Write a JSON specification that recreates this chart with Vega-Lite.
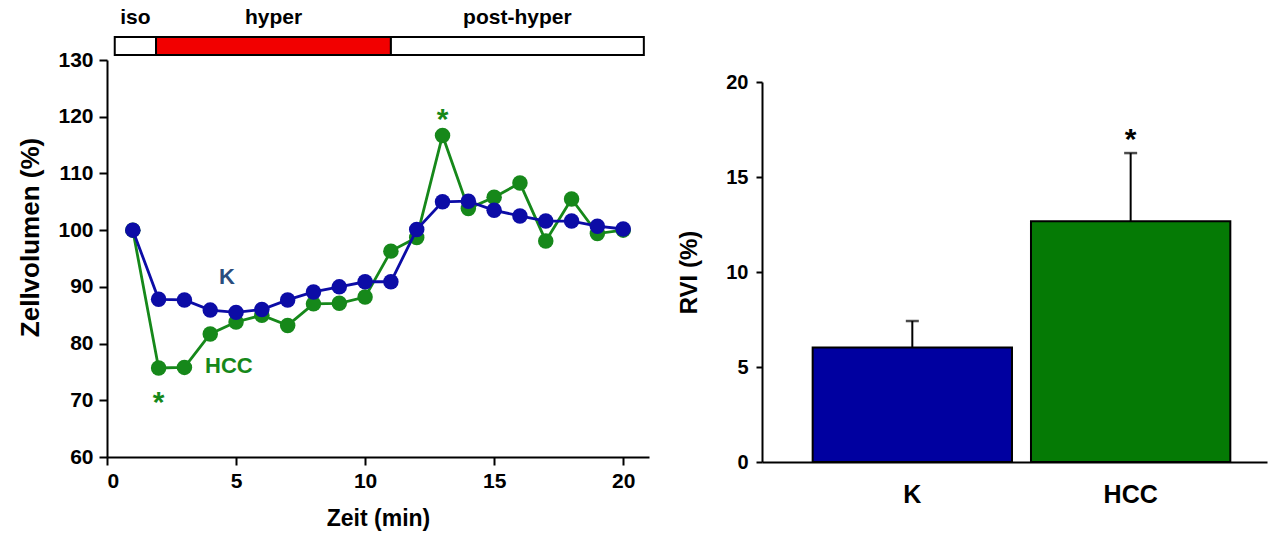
{
  "$schema": "https://vega.github.io/schema/vega-lite/v6.json",
  "padding": {"left": 17, "top": 5, "right": 5, "bottom": 5},
  "background": "white",
  "config": {
    "view": {"stroke": null},
    "font": "Liberation Sans",
    "axis": {
      "grid": false,
      "domainColor": "black",
      "domainWidth": 2,
      "tickColor": "black",
      "tickWidth": 2,
      "tickSize": 8,
      "labelFont": "Liberation Sans",
      "labelFontWeight": "bold",
      "labelFontSize": 21,
      "labelColor": "black",
      "titleFont": "Liberation Sans",
      "titleFontWeight": "bold",
      "titleFontSize": 23,
      "titleColor": "black"
    }
  },
  "spacing": 28,
  "resolve": {"scale": {"fill": "independent", "color": "independent"}},
  "hconcat": [
    {
      "bounds": "flush",
      "spacing": 5,
      "resolve": {"scale": {"x": "shared"}},
      "vconcat": [
        {
          "width": 542,
          "height": 50,
          "data": {
            "values": [
              {"phase": "iso", "start": 0.3, "end": 1.9},
              {"phase": "hyper", "start": 1.9, "end": 11.0},
              {"phase": "post-hyper", "start": 11.0, "end": 20.8}
            ]
          },
          "transform": [{"calculate": "(datum.start + datum.end) / 2", "as": "mid"}],
          "layer": [
            {
              "mark": {"type": "rect", "stroke": "black", "strokeWidth": 2},
              "encoding": {
                "x": {"field": "start", "type": "quantitative", "scale": {"domain": [0, 21], "nice": false, "zero": true}, "axis": null},
                "x2": {"field": "end"},
                "y": {"datum": 0, "type": "quantitative", "scale": {"domain": [0, 50], "nice": false}, "axis": null},
                "y2": {"datum": 18},
                "fill": {
                  "field": "phase",
                  "type": "nominal",
                  "scale": {"domain": ["iso", "hyper", "post-hyper"], "range": ["white", "#f20000", "white"]},
                  "legend": null
                }
              }
            },
            {
              "mark": {"type": "text", "font": "Liberation Sans", "fontWeight": "bold", "fontSize": 21, "baseline": "middle", "color": "black"},
              "encoding": {
                "x": {"field": "mid", "type": "quantitative"},
                "y": {"datum": 37, "type": "quantitative"},
                "text": {"field": "phase"}
              }
            }
          ]
        },
        {
          "width": 542,
          "height": 397,
          "data": {
            "values": [
              {"t": 1, "group": "HCC", "vol": 100.0},
              {"t": 2, "group": "HCC", "vol": 75.7},
              {"t": 3, "group": "HCC", "vol": 75.8},
              {"t": 4, "group": "HCC", "vol": 81.7},
              {"t": 5, "group": "HCC", "vol": 83.8},
              {"t": 6, "group": "HCC", "vol": 85.0},
              {"t": 7, "group": "HCC", "vol": 83.2},
              {"t": 8, "group": "HCC", "vol": 87.0},
              {"t": 9, "group": "HCC", "vol": 87.1},
              {"t": 10, "group": "HCC", "vol": 88.2},
              {"t": 11, "group": "HCC", "vol": 96.3},
              {"t": 12, "group": "HCC", "vol": 98.7},
              {"t": 13, "group": "HCC", "vol": 116.7},
              {"t": 14, "group": "HCC", "vol": 103.8},
              {"t": 15, "group": "HCC", "vol": 105.8},
              {"t": 16, "group": "HCC", "vol": 108.3},
              {"t": 17, "group": "HCC", "vol": 98.1},
              {"t": 18, "group": "HCC", "vol": 105.5},
              {"t": 19, "group": "HCC", "vol": 99.4},
              {"t": 20, "group": "HCC", "vol": 100.0},
              {"t": 1, "group": "K", "vol": 100.0},
              {"t": 2, "group": "K", "vol": 87.8},
              {"t": 3, "group": "K", "vol": 87.7},
              {"t": 4, "group": "K", "vol": 85.9},
              {"t": 5, "group": "K", "vol": 85.5},
              {"t": 6, "group": "K", "vol": 86.0},
              {"t": 7, "group": "K", "vol": 87.7},
              {"t": 8, "group": "K", "vol": 89.1},
              {"t": 9, "group": "K", "vol": 90.0},
              {"t": 10, "group": "K", "vol": 90.9},
              {"t": 11, "group": "K", "vol": 90.9},
              {"t": 12, "group": "K", "vol": 100.1},
              {"t": 13, "group": "K", "vol": 105.0},
              {"t": 14, "group": "K", "vol": 105.1},
              {"t": 15, "group": "K", "vol": 103.5},
              {"t": 16, "group": "K", "vol": 102.5},
              {"t": 17, "group": "K", "vol": 101.6},
              {"t": 18, "group": "K", "vol": 101.6},
              {"t": 19, "group": "K", "vol": 100.7},
              {"t": 20, "group": "K", "vol": 100.2}
            ]
          },
          "encoding": {
            "x": {
              "field": "t",
              "type": "quantitative",
              "scale": {"domain": [0, 21], "nice": false, "zero": true},
              "axis": {"values": [0, 5, 10, 15, 20], "title": "Zeit (min)", "titlePadding": 16, "labelPadding": 5}
            },
            "y": {
              "field": "vol",
              "type": "quantitative",
              "scale": {"domain": [60, 130], "nice": false, "zero": false},
              "axis": {"values": [60, 70, 80, 90, 100, 110, 120, 130], "title": "Zellvolumen (%)", "titleFontSize": 26, "titlePadding": 14, "titleY": 177, "labelPadding": 6}
            }
          },
          "layer": [
            {
              "transform": [{"filter": "datum.group === 'HCC'"}],
              "mark": {"type": "line", "strokeWidth": 2.8, "color": "#16881a"}
            },
            {
              "transform": [{"filter": "datum.group === 'HCC'"}],
              "mark": {"type": "circle", "size": 240, "opacity": 1, "color": "#16881a"}
            },
            {
              "transform": [{"filter": "datum.group === 'K'"}],
              "mark": {"type": "line", "strokeWidth": 2.8, "color": "#0c0ca6"}
            },
            {
              "transform": [{"filter": "datum.group === 'K'"}],
              "mark": {"type": "circle", "size": 240, "opacity": 1, "color": "#0c0ca6"}
            },
            {
              "data": {
                "values": [
                  {"t": 4.34, "vol": 91.7, "label": "K", "who": "K"},
                  {"t": 3.8, "vol": 76.0, "label": "HCC", "who": "HCC"}
                ]
              },
              "mark": {"type": "text", "align": "left", "baseline": "middle", "fontWeight": "bold", "fontSize": 22, "font": "Liberation Sans"},
              "encoding": {
                "x": {"field": "t", "type": "quantitative"},
                "y": {"field": "vol", "type": "quantitative"},
                "text": {"field": "label"},
                "color": {"field": "who", "type": "nominal", "scale": {"domain": ["HCC", "K"], "range": ["#16881a", "#2a4d7e"]}, "legend": null}
              }
            },
            {
              "data": {
                "values": [
                  {"t": 2.0, "vol": 71.0},
                  {"t": 13.0, "vol": 120.75}
                ]
              },
              "mark": {"type": "text", "text": "*", "align": "center", "baseline": "alphabetic", "dy": 17, "fontWeight": "bold", "fontSize": 30, "font": "Liberation Sans", "color": "#16881a"},
              "encoding": {
                "x": {"field": "t", "type": "quantitative"},
                "y": {"field": "vol", "type": "quantitative"}
              }
            }
          ]
        }
      ]
    },
    {
      "bounds": "flush",
      "spacing": 10,
      "vconcat": [
        {
          "width": 505,
          "height": 67,
          "data": {"values": []},
          "mark": "text",
          "encoding": {}
        },
        {
          "width": 505,
          "height": 380,
          "data": {
            "values": [
              {"group": "K", "rvi": 6.02, "upper": 7.42},
              {"group": "HCC", "rvi": 12.67, "upper": 16.26}
            ]
          },
          "encoding": {
            "x": {
              "field": "group",
              "type": "nominal",
              "sort": ["K", "HCC"],
              "scale": {"paddingInner": 0.087, "paddingOuter": 0.2, "align": 0.58},
              "axis": {"title": null, "labelAngle": 0, "ticks": false, "labelPadding": 20, "labelFontSize": 25}
            }
          },
          "layer": [
            {
              "mark": {"type": "rule", "color": "black", "strokeWidth": 2},
              "encoding": {
                "y": {"field": "rvi", "type": "quantitative"},
                "y2": {"field": "upper"}
              }
            },
            {
              "mark": {"type": "tick", "color": "black", "thickness": 2.5, "size": 13, "orient": "horizontal"},
              "encoding": {"y": {"field": "upper", "type": "quantitative"}}
            },
            {
              "mark": {"type": "bar", "stroke": "black", "strokeWidth": 2},
              "encoding": {
                "y": {
                  "field": "rvi",
                  "type": "quantitative",
                  "scale": {"domain": [0, 20], "nice": false},
                  "axis": {"values": [0, 5, 10, 15, 20], "title": "RVI (%)", "titleFontSize": 24, "titlePadding": 24, "labelPadding": 8, "tickSize": 6, "labelFontSize": 20}
                },
                "fill": {
                  "field": "group",
                  "type": "nominal",
                  "scale": {"domain": ["K", "HCC"], "range": ["#0000a0", "#057a05"]},
                  "legend": null
                }
              }
            },
            {
              "transform": [{"filter": "datum.group === 'HCC'"}],
              "mark": {"type": "text", "text": "*", "fontWeight": "bold", "fontSize": 30, "baseline": "alphabetic", "align": "center", "color": "black", "dy": -4},
              "encoding": {"y": {"field": "upper", "type": "quantitative"}}
            }
          ]
        }
      ]
    }
  ]
}
